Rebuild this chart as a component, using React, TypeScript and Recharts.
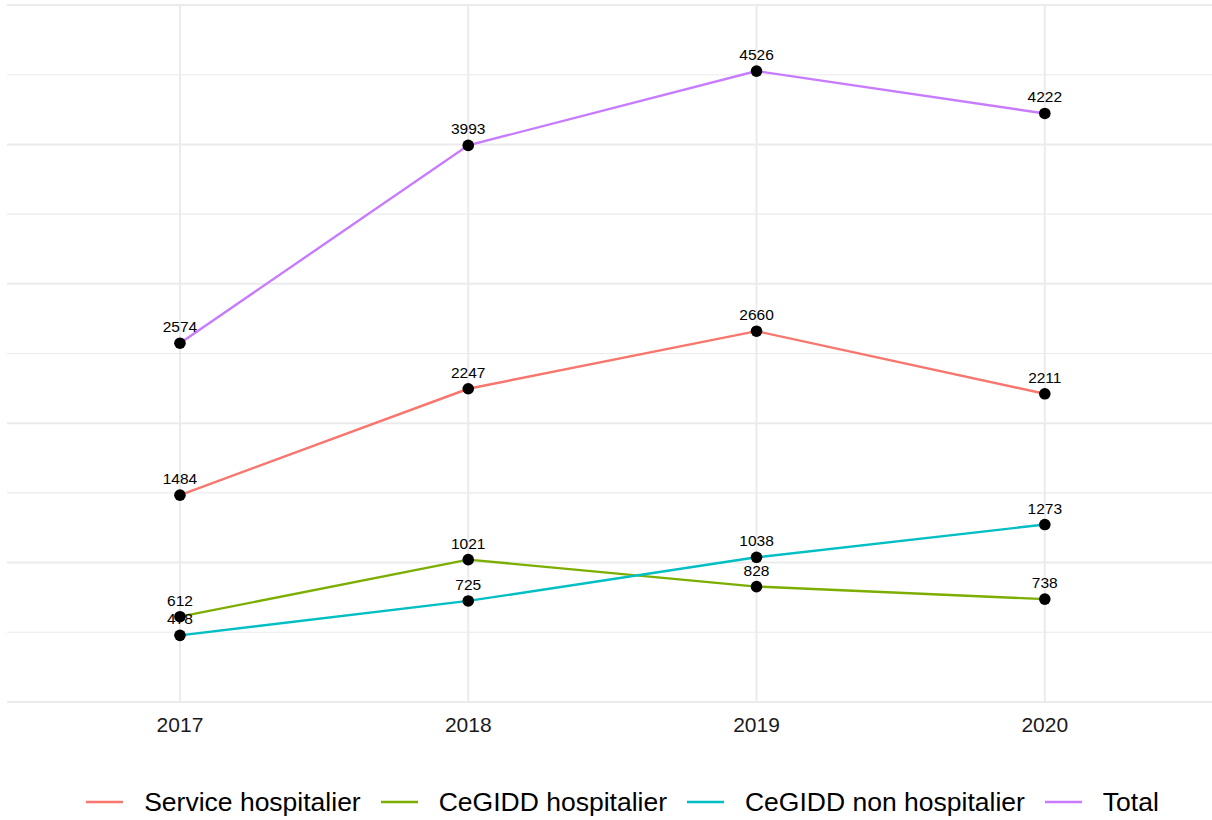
import { LabelList, Legend, Line, LineChart, ReferenceLine, XAxis, YAxis } from 'recharts';

const years = [2017, 2018, 2019, 2020];
const serviceHospitalier = [1484, 2247, 2660, 2211];
const cegiddHospitalier = [612, 1021, 828, 738];
const cegiddNonHospitalier = [478, 725, 1038, 1273];
const total = [2574, 3993, 4526, 4222];

const majorY = [0, 1000, 2000, 3000, 4000, 5000];
const minorY = [500, 1500, 2500, 3500, 4500];

const series = [
  { key: 'service', name: 'Service hospitalier', color: '#F8766D', values: serviceHospitalier },
  { key: 'cegidd', name: 'CeGIDD hospitalier', color: '#7CAE00', values: cegiddHospitalier },
  { key: 'cegiddNon', name: 'CeGIDD non hospitalier', color: '#00BFC4', values: cegiddNonHospitalier },
  { key: 'total', name: 'Total', color: '#C77CFF', values: total },
];

const data = years.map((year, i) => {
  const row: Record<string, number> = { year };
  series.forEach((s) => (row[s.key] = s.values[i]));
  return row;
});

const FONT = '"Liberation Sans", Arial, sans-serif';
const GRID = '#ebebeb';

function renderLabel(props: any) {
  const { x, y, value } = props;
  return (
    <text x={x} y={y - 11} textAnchor="middle" fontSize={15.5} fill="#000" fontFamily={FONT}>
      {value}
    </text>
  );
}

function LegendBox() {
  return (
    <div
      style={{
        height: 36,
        display: 'flex',
        alignItems: 'center',
        justifyContent: 'center',
        paddingLeft: 26,
        fontFamily: FONT,
        fontSize: 26.5,
        color: '#000',
      }}
    >
      {series.map((s, i) => (
        <div key={s.key} style={{ display: 'flex', alignItems: 'center', marginLeft: i === 0 ? 0 : 20 }}>
          <svg width={37} height={6} style={{ marginRight: 21 }}>
            <line x1={0} x2={37} y1={3} y2={3} stroke={s.color} strokeWidth={2.6} />
          </svg>
          <span>{s.name}</span>
        </div>
      ))}
    </div>
  );
}

export default function App() {
  return (
    <div style={{ position: 'absolute', left: 0, top: 0, width: 1212, height: 820, background: '#fff' }}>
      <LineChart
        width={1212}
        height={820}
        data={data}
        margin={{ top: 5, right: 0, bottom: 0, left: 7 }}
        style={{ fontFamily: FONT }}
      >
        <XAxis
          dataKey="year"
          type="number"
          domain={[2016.4, 2020.58]}
          ticks={years}
          allowDataOverflow
          axisLine={false}
          tickLine={false}
          tickSize={0}
          tickMargin={15}
          height={82}
          tick={{ fontSize: 21, fill: '#1a1a1a' }}
        />
        <YAxis hide type="number" domain={[0, 5000]} allowDataOverflow />
        {minorY.map((v) => (
          <ReferenceLine key={'mi' + v} y={v} stroke={GRID} strokeWidth={1.1} />
        ))}
        {majorY.map((v) => (
          <ReferenceLine key={'ma' + v} y={v} stroke={GRID} strokeWidth={2} />
        ))}
        {years.map((v) => (
          <ReferenceLine key={'x' + v} x={v} stroke={GRID} strokeWidth={2} />
        ))}
        {series.map((s) => (
          <Line
            key={'line-' + s.key}
            dataKey={s.key}
            name={s.name}
            stroke={s.color}
            strokeWidth={2.4}
            dot={false}
            activeDot={false}
            isAnimationActive={false}
          />
        ))}
        {series.map((s) => (
          <Line
            key={'lab-' + s.key}
            dataKey={s.key}
            stroke="none"
            dot={false}
            activeDot={false}
            legendType="none"
            isAnimationActive={false}
          >
            <LabelList dataKey={s.key} content={renderLabel} />
          </Line>
        ))}
        {series.map((s) => (
          <Line
            key={'pt-' + s.key}
            dataKey={s.key}
            stroke="none"
            dot={{ r: 5.8, fill: '#000', stroke: '#000', strokeWidth: 0 }}
            activeDot={false}
            legendType="none"
            isAnimationActive={false}
          />
        ))}
        <Legend verticalAlign="bottom" content={() => <LegendBox />} />
      </LineChart>
    </div>
  );
}
